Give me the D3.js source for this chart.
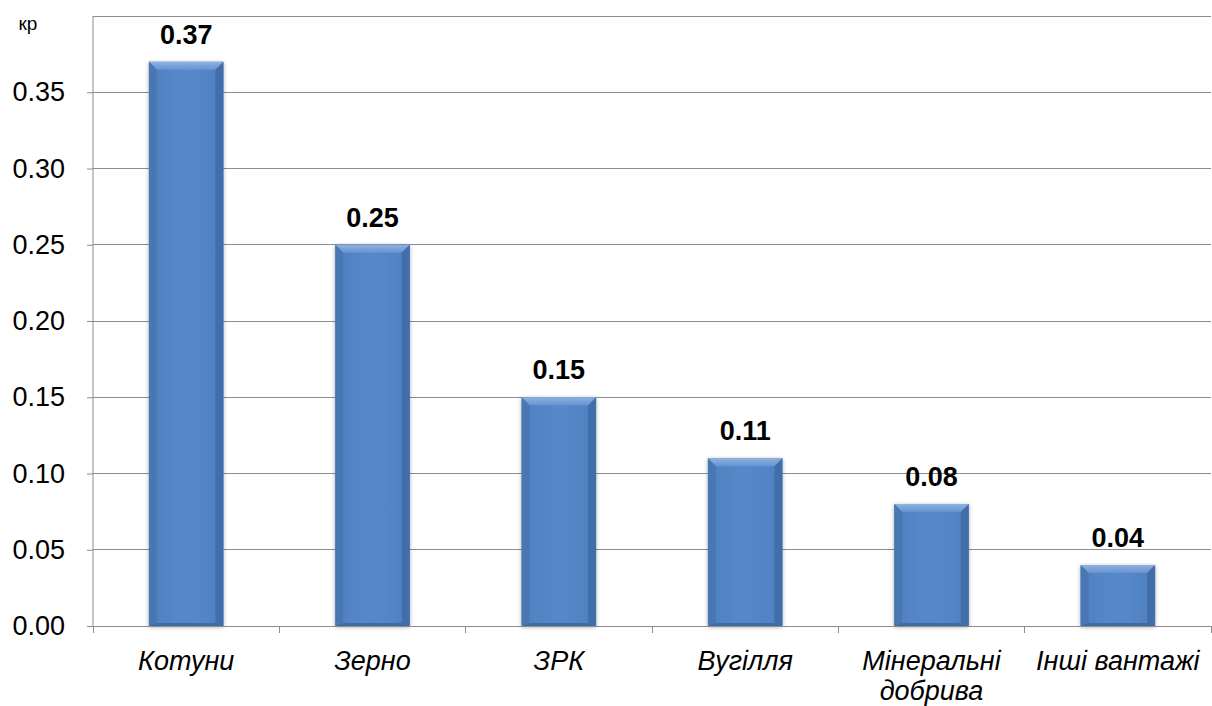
<!DOCTYPE html>
<html>
<head>
<meta charset="utf-8">
<script src="https://cdn.jsdelivr.net/npm/d3@7"></script>
<style>
  html, body { margin: 0; padding: 0; background: #fff; }
  svg { display: block; }
  text { font-family: "Liberation Sans", Arial, sans-serif; }
</style>
</head>
<body>
<div id="chart"></div>
<script>
// Cargo categories and their coefficients
const categories = ["Котуни", "Зерно", "ЗРК", "Вугілля", "Мінеральні добрива", "Інші вантажі"];
const values = [0.37, 0.25, 0.15, 0.11, 0.08, 0.04];
const valueLabels = ["0.37", "0.25", "0.15", "0.11", "0.08", "0.04"];
const yTicks = [0, 0.05, 0.10, 0.15, 0.20, 0.25, 0.30, 0.35, 0.40];
const yUnit = "кр";

const W = 1212, H = 706;
const margin = { top: 16, right: 1, bottom: 80, left: 93 };
const FS = 27;

const svg = d3.select("#chart").append("svg")
  .attr("width", W).attr("height", H);

const defs = svg.append("defs");
const grad = defs.append("linearGradient").attr("id", "barFill")
  .attr("x1", 0).attr("y1", 0).attr("x2", 1).attr("y2", 0);
grad.append("stop").attr("offset", "0%").attr("stop-color", "#4f80c0");
grad.append("stop").attr("offset", "50%").attr("stop-color", "#5689cb");
grad.append("stop").attr("offset", "100%").attr("stop-color", "#4f80c0");

const topGrad = defs.append("linearGradient").attr("id", "topFill")
  .attr("x1", 0).attr("y1", 0).attr("x2", 0).attr("y2", 1);
topGrad.append("stop").attr("offset", "0%").attr("stop-color", "#8fb2e0");
topGrad.append("stop").attr("offset", "100%").attr("stop-color", "#6693d0");

const shadow = defs.append("filter").attr("id", "barShadow")
  .attr("x", "-20%").attr("y", "-10%").attr("width", "140%").attr("height", "120%");
shadow.append("feGaussianBlur").attr("in", "SourceAlpha").attr("stdDeviation", 2).attr("result", "b");
shadow.append("feOffset").attr("in", "b").attr("dx", 0).attr("dy", 1).attr("result", "o");
shadow.append("feComponentTransfer").attr("in", "o").attr("result", "s")
  .append("feFuncA").attr("type", "linear").attr("slope", 0.35);
const fm = shadow.append("feMerge");
fm.append("feMergeNode").attr("in", "s");
fm.append("feMergeNode").attr("in", "SourceGraphic");

const x = d3.scaleBand()
  .domain(categories)
  .range([margin.left, W - margin.right])
  .paddingInner(0.6)
  .paddingOuter(0.3);

const y = d3.scaleLinear()
  .domain([0, 0.40])
  .range([H - margin.bottom, margin.top]);

// Horizontal gridlines
svg.append("g").selectAll("line")
  .data(yTicks.filter(d => d > 0))
  .join("line")
  .attr("x1", margin.left).attr("x2", W - margin.right)
  .attr("y1", d => y(d)).attr("y2", d => y(d))
  .attr("stroke", "#8c8c8c").attr("stroke-width", 1)
  .attr("shape-rendering", "crispEdges");

// Y axis
const yAxis = d3.axisLeft(y)
  .tickValues(yTicks.filter(d => d < 0.40))
  .tickFormat(d3.format(".2f"))
  .tickSize(6)
  .tickPadding(22);
const gy = svg.append("g").attr("transform", `translate(${margin.left},0)`).call(yAxis);
gy.select(".domain").attr("stroke", "#8c8c8c").attr("d", `M0,${y(0)}V${y(0.40)}`);
gy.selectAll(".tick line").attr("stroke", "#8c8c8c");
gy.selectAll(".tick text")
  .attr("font-size", FS).attr("fill", "#000")
  .attr("font-family", "'Liberation Sans', Arial, sans-serif");

// Unit label above the y axis
svg.append("text")
  .attr("x", 28).attr("y", 30)
  .attr("text-anchor", "middle")
  .attr("font-size", 19).attr("fill", "#000")
  .text(yUnit);

// Bars with bevelled edges
const bev = 8;
const bars = svg.append("g").selectAll("g.bar")
  .data(categories.map((c, i) => ({ c, v: values[i], label: valueLabels[i] })))
  .join("g").attr("class", "bar");

bars.append("rect")
  .attr("x", d => x(d.c)).attr("width", x.bandwidth())
  .attr("y", d => y(d.v)).attr("height", d => y(0) - y(d.v))
  .attr("fill", "url(#barFill)")
  .attr("filter", "url(#barShadow)");

// top bevel (lighter)
bars.append("path")
  .attr("d", d => {
    const x0 = x(d.c), x1 = x0 + x.bandwidth(), t = y(d.v);
    return `M${x0},${t}L${x1},${t}L${x1 - bev},${t + bev}L${x0 + bev},${t + bev}Z`;
  })
  .attr("fill", "url(#topFill)");
// left bevel
bars.append("path")
  .attr("d", d => {
    const x0 = x(d.c), t = y(d.v), b = y(0);
    return `M${x0},${t}L${x0 + bev},${t + bev}L${x0 + bev},${b - 3}L${x0},${b}Z`;
  })
  .attr("fill", "#4774b0").attr("opacity", 0.8);
// right bevel (darker)
bars.append("path")
  .attr("d", d => {
    const x1 = x(d.c) + x.bandwidth(), t = y(d.v), b = y(0);
    return `M${x1},${t}L${x1 - bev},${t + bev}L${x1 - bev},${b - 3}L${x1},${b}Z`;
  })
  .attr("fill", "#3e6aa6").attr("opacity", 0.85);
// bottom edge
bars.append("path")
  .attr("d", d => {
    const x0 = x(d.c), x1 = x0 + x.bandwidth(), b = y(0);
    return `M${x0},${b}L${x0 + bev},${b - 3}L${x1 - bev},${b - 3}L${x1},${b}Z`;
  })
  .attr("fill", "#3f6ba5");

// Value labels
bars.append("text")
  .attr("x", d => x(d.c) + x.bandwidth() / 2)
  .attr("y", d => y(d.v) - 18)
  .attr("text-anchor", "middle")
  .attr("font-size", FS).attr("font-weight", "bold").attr("fill", "#000")
  .text(d => d.label);

// X axis baseline and ticks at band boundaries
svg.append("line")
  .attr("x1", margin.left).attr("x2", W - margin.right)
  .attr("y1", y(0)).attr("y2", y(0))
  .attr("stroke", "#8c8c8c").attr("shape-rendering", "crispEdges");
const bounds = categories.map(c => x(c) - x.step() * x.paddingInner() / 2)
  .concat([W - margin.right]);
svg.append("g").selectAll("line").data(bounds).join("line")
  .attr("x1", d => d).attr("x2", d => d)
  .attr("y1", y(0)).attr("y2", y(0) + 7)
  .attr("stroke", "#8c8c8c").attr("shape-rendering", "crispEdges");

// Category labels (italic, wrapped)
const catG = svg.append("g");
categories.forEach(c => {
  const words = c === "Мінеральні добрива" ? ["Мінеральні", "добрива"] : [c];
  const t = catG.append("text")
    .attr("x", x(c) + x.bandwidth() / 2)
    .attr("y", y(0) + 44)
    .attr("text-anchor", "middle")
    .attr("font-size", FS).attr("font-style", "italic").attr("fill", "#000");
  words.forEach((w, i) => {
    t.append("tspan").attr("x", x(c) + x.bandwidth() / 2)
      .attr("dy", i === 0 ? 0 : 30).text(w);
  });
});
</script>
</body>
</html>
